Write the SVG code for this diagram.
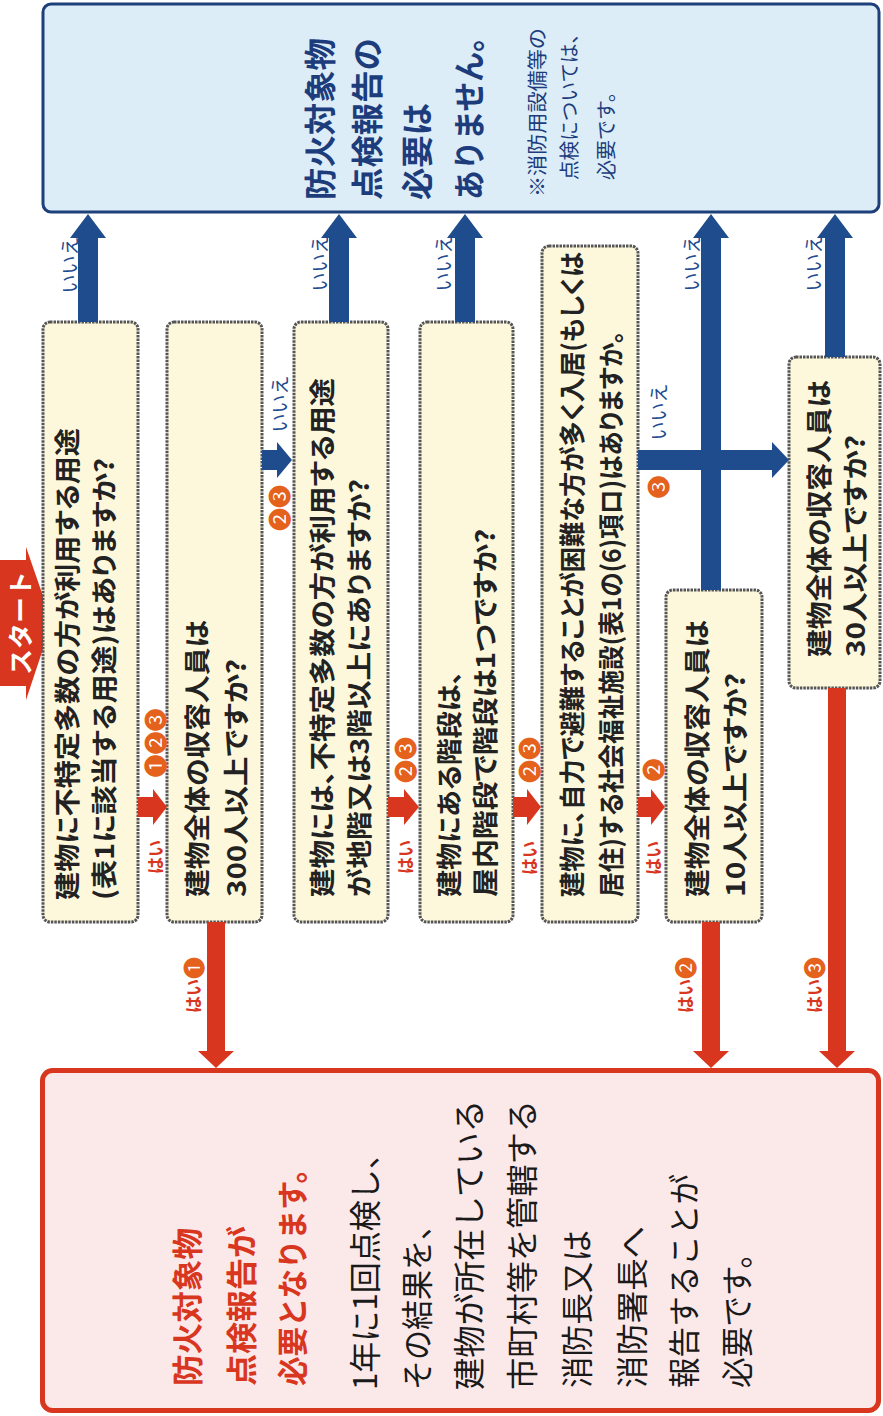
<svg xmlns="http://www.w3.org/2000/svg" width="883" height="1416" viewBox="0 0 883 1416">
<style>
.q{fill:#fdf8dc;stroke:#555;stroke-width:3;stroke-dasharray:2.5 1}
.t{font-family:"Noto Sans CJK JP","Noto Sans",sans-serif;dominant-baseline:central}
.qt{font-size:26px;font-weight:700;fill:#222;font-feature-settings:"palt"}
.bt{font-size:32px;font-weight:700;fill:#1d3c7c}
.bs{font-size:20px;font-weight:400;fill:#1d3c7c}
.rt{font-size:31px;font-weight:700;fill:#d8361e}
.kt{font-size:32px;font-weight:400;fill:#1a1a1a}
.no{font-size:19px;fill:#1d4b8f;text-anchor:middle}
.yes{font-size:17px;fill:#d8361e;font-weight:700;text-anchor:middle}
.num{font-size:23px;fill:#e4621b;text-anchor:middle}
.ba{fill:#1f4c8c}
.ra{fill:#d8361e}
</style>

<g id="node-no">
<rect x="43" y="4" width="836" height="208" rx="8" fill="#dcedf8" stroke="#1d3f7a" stroke-width="3"/>
<text class="t bt" transform="translate(318,200) rotate(-90)" textLength="162" lengthAdjust="spacingAndGlyphs">防火対象物</text>
<text class="t bt" transform="translate(365,200) rotate(-90)" textLength="162" lengthAdjust="spacingAndGlyphs">点検報告の</text>
<text class="t bt" transform="translate(415,200) rotate(-90)" textLength="97" lengthAdjust="spacingAndGlyphs">必要は</text>
<text class="t bt" transform="translate(467,200) rotate(-90)" textLength="178" lengthAdjust="spacingAndGlyphs">ありません。</text>
<text class="t bs" transform="translate(536,197) rotate(-90)" textLength="169" lengthAdjust="spacingAndGlyphs">※消防用設備等の</text>
<text class="t bs" transform="translate(568,180) rotate(-90)" textLength="156" lengthAdjust="spacingAndGlyphs">点検については、</text>
<text class="t bs" transform="translate(605,180) rotate(-90)" textLength="98" lengthAdjust="spacingAndGlyphs">必要です。</text>
</g>

<g id="node-yes">
<rect x="42.5" y="1070.5" width="836" height="340" rx="10" fill="#fbe9ea" stroke="#d8361e" stroke-width="5"/>
<text class="t rt" transform="translate(185,1386) rotate(-90)" textLength="158" lengthAdjust="spacingAndGlyphs">防火対象物</text>
<text class="t rt" transform="translate(239,1386) rotate(-90)" textLength="160" lengthAdjust="spacingAndGlyphs">点検報告が</text>
<text class="t rt" transform="translate(290,1386) rotate(-90)" textLength="232" lengthAdjust="spacingAndGlyphs">必要となります。</text>
<text class="t kt" transform="translate(363,1390) rotate(-90)" textLength="252" lengthAdjust="spacingAndGlyphs">1年に1回点検し、</text>
<text class="t kt" transform="translate(415,1390) rotate(-90)" textLength="180" lengthAdjust="spacingAndGlyphs">その結果を、</text>
<text class="t kt" transform="translate(467,1390) rotate(-90)" textLength="290" lengthAdjust="spacingAndGlyphs">建物が所在している</text>
<text class="t kt" transform="translate(520,1390) rotate(-90)" textLength="290" lengthAdjust="spacingAndGlyphs">市町村等を管轄する</text>
<text class="t kt" transform="translate(575,1388) rotate(-90)" textLength="158" lengthAdjust="spacingAndGlyphs">消防長又は</text>
<text class="t kt" transform="translate(630,1388) rotate(-90)" textLength="162" lengthAdjust="spacingAndGlyphs">消防署長へ</text>
<text class="t kt" transform="translate(682,1388) rotate(-90)" textLength="214" lengthAdjust="spacingAndGlyphs">報告することが</text>
<text class="t kt" transform="translate(735,1388) rotate(-90)" textLength="150" lengthAdjust="spacingAndGlyphs">必要です。</text>
</g>

<g id="node-start">
<polygon points="0,560 26,560 26,547 52,622 26,700 26,686 0,686" fill="#d8361e"/>
<text class="t" transform="translate(19,623) rotate(-90)" font-size="25" font-weight="700" fill="#fff" text-anchor="middle" textLength="104" lengthAdjust="spacingAndGlyphs">スタート</text>
</g>

<g id="node-q1">
<rect class="q" x="43" y="322" width="95" height="600" rx="7"/>
<text class="t qt" transform="translate(65,900) rotate(-90)" textLength="472" lengthAdjust="spacingAndGlyphs">建物に不特定多数の方が利用する用途</text>
<text class="t qt" transform="translate(102,900) rotate(-90)" textLength="442" lengthAdjust="spacingAndGlyphs">(表1に該当する用途)はありますか?</text>
</g>

<g id="node-q2">
<rect class="q" x="167" y="322" width="95" height="600" rx="7"/>
<text class="t qt" transform="translate(195,897) rotate(-90)" textLength="277" lengthAdjust="spacingAndGlyphs">建物全体の収容人員は</text>
<text class="t qt" transform="translate(234,897) rotate(-90)" textLength="238" lengthAdjust="spacingAndGlyphs">300人以上ですか?</text>
</g>

<g id="node-q3">
<rect class="q" x="294" y="322" width="94" height="600" rx="7"/>
<text class="t qt" transform="translate(320,897) rotate(-90)" textLength="519" lengthAdjust="spacingAndGlyphs">建物には、不特定多数の方が利用する用途</text>
<text class="t qt" transform="translate(357,897) rotate(-90)" textLength="418" lengthAdjust="spacingAndGlyphs">が地階又は3階以上にありますか?</text>
</g>

<g id="node-q4">
<rect class="q" x="420" y="322" width="93" height="600" rx="7"/>
<text class="t qt" transform="translate(447,897) rotate(-90)" textLength="226" lengthAdjust="spacingAndGlyphs">建物にある階段は、</text>
<text class="t qt" transform="translate(483,897) rotate(-90)" textLength="368" lengthAdjust="spacingAndGlyphs">屋内階段で階段は1つですか?</text>
</g>

<g id="node-q5">
<rect class="q" x="542" y="246" width="96" height="676" rx="7"/>
<text class="t qt" transform="translate(570,897) rotate(-90)" textLength="645" lengthAdjust="spacingAndGlyphs">建物に、自力で避難することが困難な方が多く入居(もしくは</text>
<text class="t qt" transform="translate(609,897) rotate(-90)" textLength="566" lengthAdjust="spacingAndGlyphs">居住)する社会福祉施設(表1の(6)項ロ)はありますか。</text>
</g>

<g id="node-q6">
<rect class="q" x="666" y="590" width="96" height="332" rx="7"/>
<text class="t qt" transform="translate(695,897) rotate(-90)" textLength="277" lengthAdjust="spacingAndGlyphs">建物全体の収容人員は</text>
<text class="t qt" transform="translate(733,897) rotate(-90)" textLength="224" lengthAdjust="spacingAndGlyphs">10人以上ですか?</text>
</g>

<g id="node-q7">
<rect class="q" x="789" y="357" width="91" height="331" rx="7"/>
<text class="t qt" transform="translate(817,657) rotate(-90)" textLength="277" lengthAdjust="spacingAndGlyphs">建物全体の収容人員は</text>
<text class="t qt" transform="translate(853,657) rotate(-90)" textLength="222" lengthAdjust="spacingAndGlyphs">30人以上ですか?</text>
</g>

<g id="connectors">
<polygon class="ba" points="78,322 78,238 70,238 88,214 106,238 98,238 98,322"/>
<polygon class="ba" points="329,322 329,238 321,238 339,214 357,238 349,238 349,322"/>
<polygon class="ba" points="455,322 455,238 447,238 465,214 483,238 475,238 475,322"/>
<polygon class="ba" points="701,590 701,238 693,238 711,214 729,238 721,238 721,590"/>
<polygon class="ba" points="825,357 825,238 817,238 835,214 853,238 845,238 845,357"/>
<polygon class="ba" points="262,450 277,450 277,442 292,460 277,478 277,470 262,470"/>
<polygon class="ba" points="638,450 772,450 772,442 789,460 772,478 772,470 638,470"/>
<polygon class="ra" points="138,797 153,797 153,789 167,807 153,825 153,817 138,817"/>
<polygon class="ra" points="388,797 404,797 404,789 419,807 404,825 404,817 388,817"/>
<polygon class="ra" points="513,797 527,797 527,789 541,807 527,825 527,817 513,817"/>
<polygon class="ra" points="638,797 651,797 651,789 665,807 651,825 651,817 638,817"/>
<polygon class="ra" points="207,922 207,1051 198,1051 216,1068 234,1051 225,1051 225,922"/>
<polygon class="ra" points="702,922 702,1051 693,1051 711,1068 729,1051 720,1051 720,922"/>
<polygon class="ra" points="828,688 828,1051 819,1051 837,1068 855,1051 846,1051 846,688"/>

<text class="t no" transform="translate(68,265) rotate(-90)">いいえ</text>
<text class="t no" transform="translate(318,263) rotate(-90)">いいえ</text>
<text class="t no" transform="translate(442,263) rotate(-90)">いいえ</text>
<text class="t no" transform="translate(690,263) rotate(-90)">いいえ</text>
<text class="t no" transform="translate(812,263) rotate(-90)">いいえ</text>
<text class="t no" transform="translate(278,404) rotate(-90)">いいえ</text>
<text class="t no" transform="translate(657,412) rotate(-90)">いいえ</text>
<text class="t num" transform="translate(278,508) rotate(-90)">❷❸</text>
<text class="t num" transform="translate(657,487) rotate(-90)">❸</text>

<text class="t yes" transform="translate(154,857) rotate(-90)">はい</text>
<text class="t num" transform="translate(154,743) rotate(-90)">❶❷❸</text>
<text class="t yes" transform="translate(404,857) rotate(-90)">はい</text>
<text class="t num" transform="translate(404,760) rotate(-90)">❷❸</text>
<text class="t yes" transform="translate(528,858) rotate(-90)">はい</text>
<text class="t num" transform="translate(528,760) rotate(-90)">❷❸</text>
<text class="t yes" transform="translate(652,858) rotate(-90)">はい</text>
<text class="t num" transform="translate(652,770) rotate(-90)">❷</text>

<text class="t yes" transform="translate(192,985) rotate(-90)">はい<tspan fill="#e4621b" font-weight="400" font-size="22">❶</tspan></text>
<text class="t yes" transform="translate(684,985) rotate(-90)">はい<tspan fill="#e4621b" font-weight="400" font-size="22">❷</tspan></text>
<text class="t yes" transform="translate(813,985) rotate(-90)">はい<tspan fill="#e4621b" font-weight="400" font-size="22">❸</tspan></text>
</g>
</svg>
